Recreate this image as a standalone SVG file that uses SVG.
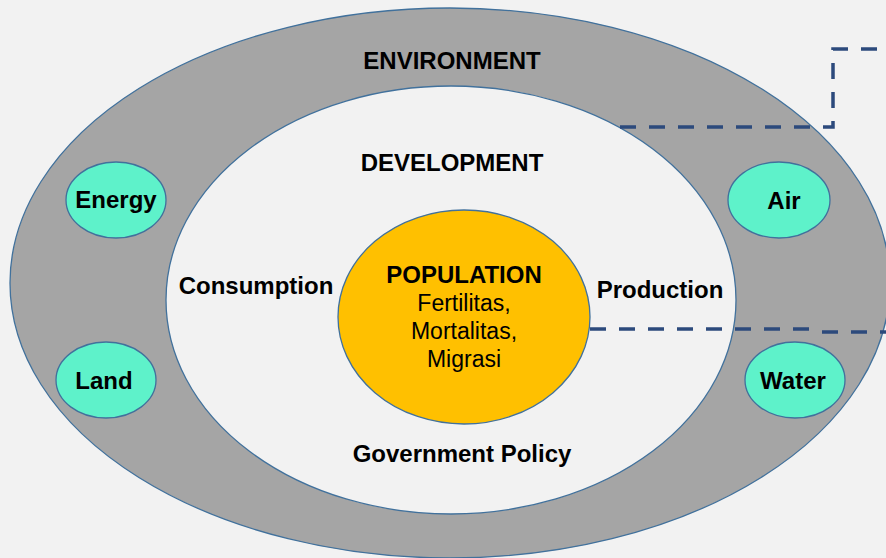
<svg xmlns="http://www.w3.org/2000/svg" width="886" height="558" viewBox="0 0 886 558">
<style>
.ring{fill:#A5A5A5;stroke:#41719C;stroke-width:1.3}
.inner{fill:#F2F2F2;stroke:#41719C;stroke-width:1.3}
.pop{fill:#FFC000;stroke:#41719C;stroke-width:1.3}
.res{fill:#5EF2CA;stroke:#41719C;stroke-width:1.3}
.b{font-family:"Liberation Sans",Arial,sans-serif;font-weight:bold;font-size:24px;fill:#000;text-anchor:middle}
.r{font-family:"Liberation Sans",Arial,sans-serif;font-size:23px;fill:#000;text-anchor:middle}
.dash{fill:none;stroke:#2C4A7C;stroke-width:3.5;stroke-dasharray:16 13}
</style>
<rect width="886" height="558" fill="#F2F2F2"/>
<g id="environment">
<ellipse class="ring" cx="450" cy="283" rx="440" ry="275"/>
<text class="b" x="452" y="69">ENVIRONMENT</text>
</g>
<g id="development">
<ellipse class="inner" cx="451" cy="300" rx="285" ry="214"/>
<text class="b" x="452" y="171">DEVELOPMENT</text>
<text class="b" x="256" y="294">Consumption</text>
<text class="b" x="660" y="298">Production</text>
<text class="b" x="462" y="462">Government Policy</text>
</g>
<g id="connectors">
<path class="dash" d="M620,127 H833 V49 H886"/>
<path class="dash" d="M590,329 H822"/>
<path class="dash" d="M822,332 H886"/>
</g>
<g id="population">
<ellipse class="pop" cx="464" cy="317" rx="126" ry="107"/>
<text class="b" x="464" y="283">POPULATION</text>
<text class="r" x="464" y="311">Fertilitas,</text>
<text class="r" x="464" y="339">Mortalitas,</text>
<text class="r" x="464" y="367">Migrasi</text>
</g>
<g id="energy">
<ellipse class="res" cx="116" cy="200" rx="50" ry="38"/>
<text class="b" x="116" y="208">Energy</text>
</g>
<g id="air">
<ellipse class="res" cx="779" cy="200" rx="51" ry="38"/>
<text class="b" x="784" y="209">Air</text>
</g>
<g id="land">
<ellipse class="res" cx="106" cy="380" rx="50" ry="38"/>
<text class="b" x="104" y="389">Land</text>
</g>
<g id="water">
<ellipse class="res" cx="795" cy="380" rx="50" ry="38"/>
<text class="b" x="793" y="389">Water</text>
</g>
</svg>
